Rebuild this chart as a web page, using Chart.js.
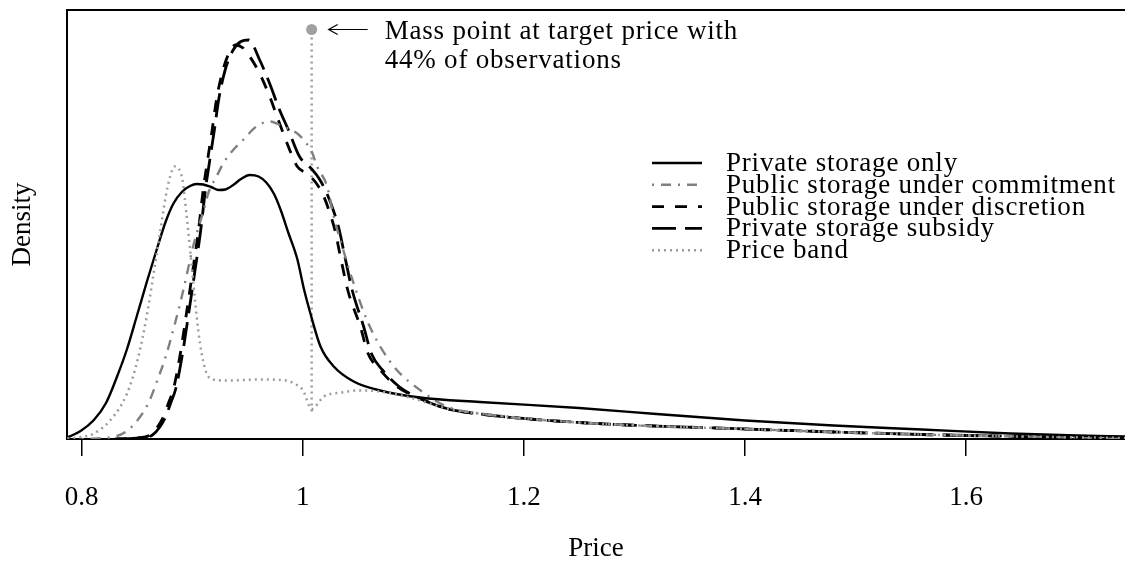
<!DOCTYPE html>
<html>
<head>
<meta charset="utf-8">
<script src="https://cdn.jsdelivr.net/npm/chart.js@4.4.1/dist/chart.umd.min.js"></script>
<style>
  html, body { margin: 0; padding: 0; background: #fff; overflow: hidden; }
</style>
</head>
<body>
<canvas id="myChart" width="1125" height="565"></canvas>
<script>
// density of prices
const privateX = [0.787, 0.799, 0.811, 0.822, 0.832, 0.841, 0.850, 0.859, 0.868, 0.876, 0.883, 0.891, 0.898, 0.904, 0.910, 0.917, 0.924, 0.930, 0.937, 0.944, 0.952, 0.960, 0.967, 0.974, 0.980, 0.987, 0.995, 1.001, 1.007, 1.016, 1.028, 1.046, 1.070, 1.106, 1.160, 1.250, 1.320, 1.400, 1.480, 1.560, 1.640, 1.700, 1.744];
const privateY = [0.03, 0.16, 0.38, 0.72, 1.25, 1.80, 2.47, 3.15, 3.80, 4.35, 4.71, 4.95, 5.06, 5.10, 5.09, 5.04, 4.98, 4.99, 5.08, 5.20, 5.28, 5.25, 5.13, 4.90, 4.58, 4.12, 3.60, 3.00, 2.50, 1.85, 1.45, 1.15, 0.97, 0.83, 0.74, 0.62, 0.50, 0.37, 0.27, 0.19, 0.11, 0.07, 0.05];

const commitX = [0.800, 0.830, 0.842, 0.853, 0.861, 0.868, 0.876, 0.884, 0.890, 0.895, 0.900, 0.904, 0.910, 0.915, 0.922, 0.928, 0.937, 0.946, 0.958, 0.970, 0.982, 0.995, 1.002, 1.008, 1.013, 1.022, 1.028, 1.037, 1.046, 1.058, 1.070, 1.085, 1.106, 1.130, 1.160, 1.250, 1.400, 1.560, 1.650, 1.744];
const commitY = [0.00, 0.05, 0.18, 0.45, 0.75, 1.15, 1.65, 2.28, 2.80, 3.28, 3.78, 4.11, 4.55, 4.95, 5.25, 5.51, 5.78, 5.98, 6.25, 6.35, 6.25, 6.11, 5.95, 5.75, 5.45, 5.05, 4.45, 3.75, 3.11, 2.38, 1.85, 1.38, 0.98, 0.65, 0.51, 0.33, 0.20, 0.09, 0.05, 0.02];

const discretionX = [0.830, 0.850, 0.862, 0.868, 0.874, 0.879, 0.883, 0.889, 0.895, 0.901, 0.9055, 0.910, 0.914, 0.918, 0.922, 0.928, 0.934, 0.939, 0.946, 0.952, 0.961, 0.970, 0.979, 0.986, 0.995, 1.004, 1.011, 1.018, 1.024, 1.029, 1.034, 1.041, 1.052, 1.059, 1.070, 1.085, 1.106, 1.130, 1.160, 1.250, 1.400, 1.560, 1.650, 1.744];
const discretionY = [0.00, 0.02, 0.08, 0.22, 0.45, 0.75, 1.00, 1.68, 2.55, 3.45, 4.15, 5.00, 5.60, 6.18, 6.80, 7.40, 7.75, 7.88, 7.82, 7.65, 7.31, 6.85, 6.31, 5.90, 5.45, 5.30, 5.15, 4.90, 4.55, 4.18, 3.65, 2.95, 2.25, 1.71, 1.38, 1.05, 0.81, 0.61, 0.50, 0.33, 0.20, 0.09, 0.05, 0.02];

const subsidyX = [0.832, 0.852, 0.864, 0.870, 0.876, 0.881, 0.885, 0.891, 0.897, 0.903, 0.9075, 0.912, 0.916, 0.920, 0.924, 0.930, 0.937, 0.944, 0.951, 0.961, 0.970, 0.979, 0.987, 0.997, 1.008, 1.015, 1.022, 1.028, 1.033, 1.038, 1.045, 1.055, 1.062, 1.072, 1.087, 1.106, 1.130, 1.160, 1.250, 1.400, 1.560, 1.650, 1.744];
const subsidyY = [0.00, 0.02, 0.08, 0.22, 0.45, 0.75, 1.00, 1.68, 2.55, 3.45, 4.15, 5.00, 5.60, 6.18, 6.80, 7.40, 7.78, 7.95, 7.98, 7.58, 7.11, 6.58, 6.18, 5.65, 5.40, 5.20, 4.90, 4.55, 4.18, 3.65, 2.95, 2.25, 1.71, 1.38, 1.05, 0.81, 0.61, 0.50, 0.33, 0.20, 0.09, 0.05, 0.02];

const bandX = [0.787, 0.800, 0.811, 0.826, 0.841, 0.851, 0.859, 0.865, 0.871, 0.876, 0.880, 0.884, 0.888, 0.891, 0.895, 0.898, 0.901, 0.904, 0.907, 0.910, 0.913, 0.919, 0.930, 0.961, 0.985, 0.993, 1.000, 1.008, 1.019, 1.035, 1.049, 1.070, 1.100, 1.130, 1.160, 1.250, 1.400, 1.560, 1.650, 1.744];
const bandY = [0.01, 0.04, 0.11, 0.38, 0.91, 1.62, 2.48, 3.30, 4.15, 4.85, 5.25, 5.45, 5.40, 5.20, 4.45, 3.80, 3.11, 2.45, 1.91, 1.55, 1.31, 1.19, 1.17, 1.19, 1.17, 1.10, 0.98, 0.60, 0.85, 0.93, 0.97, 0.95, 0.81, 0.61, 0.51, 0.33, 0.20, 0.09, 0.05, 0.02];

// mass point at the target price
const massX = [1.008, 1.008];
const massY = [0.55, 8.19];

const seriesNames = ['Private storage only', 'Public storage under commitment', 'Public storage under discretion', 'Private storage subsidy', 'Price band'];
const tickValues = [0.8, 1, 1.2, 1.4, 1.6];
const tickLabels = ['0.8', '1', '1.2', '1.4', '1.6'];
const noteLines = ['Mass point at target price with', '44% of observations'];

const FONT = "'Liberation Serif', 'Times New Roman', serif";
Chart.defaults.font.family = FONT;
Chart.defaults.color = '#000';

const toPoints = (xs, ys) => xs.map((x, i) => ({x: x, y: ys[i]}));

function curve(label, xs, ys, color, width, dash) {
    return {
        label: label,
        data: toPoints(xs, ys),
        borderColor: color,
        borderWidth: width,
        borderDash: dash,
        pointRadius: 0,
        fill: false,
        cubicInterpolationMode: 'monotone'
    };
}

const data = {
    datasets: [
        curve(seriesNames[4], bandX, bandY, '#9c9c9c', 2.5, [2, 4]),
        curve(seriesNames[0], privateX, privateY, '#000', 2.4, []),
        curve(seriesNames[1], commitX, commitY, '#808080', 2.4, [2, 7, 10, 7]),
        curve(seriesNames[2], discretionX, discretionY, '#000', 2.8, [12, 11]),
        curve(seriesNames[3], subsidyX, subsidyY, '#000', 2.8, [24, 9]),
        {
            label: 'mass line',
            data: toPoints(massX, massY),
            borderColor: '#9c9c9c',
            borderWidth: 2.5,
            borderDash: [2, 4],
            tension: 0,
            pointRadius: [0, 5.5],
            pointBackgroundColor: '#a0a0a0',
            pointBorderWidth: 0,
            fill: false
        }
    ]
};

// top of the box, the note with its arrow, and the legend
const extras = {
    id: 'extras',
    afterDatasetsDraw(chart) {
        const ctx = chart.ctx;
        const a = chart.chartArea;
        const x = chart.scales.x, y = chart.scales.y;
        ctx.save();
        ctx.strokeStyle = '#000';
        ctx.lineWidth = 2;
        ctx.beginPath();
        ctx.moveTo(a.left - 1, a.top);
        ctx.lineTo(a.right, a.top);
        ctx.stroke();

        const px = x.getPixelForValue(massX[1]);
        const py = y.getPixelForValue(massY[1]);
        ctx.lineWidth = 1.2;
        ctx.beginPath();
        ctx.moveTo(px + 56, py);
        ctx.lineTo(px + 17, py);
        ctx.moveTo(px + 26, py - 5);
        ctx.lineTo(px + 17, py);
        ctx.lineTo(px + 26, py + 5);
        ctx.stroke();

        ctx.font = '27px ' + FONT;
        ctx.letterSpacing = '0.8px';
        ctx.fillStyle = '#000';
        ctx.textBaseline = 'middle';
        ctx.fillText(noteLines[0], px + 73, py + 2);
        ctx.fillText(noteLines[1], px + 73, py + 31);

        // legend rows in the order of the original key
        const order = [1, 2, 3, 4, 0];
        order.forEach((di, row) => {
            const ds = chart.data.datasets[di];
            const ry = 163 + row * 21.8;
            ctx.strokeStyle = ds.borderColor;
            ctx.lineWidth = ds.borderWidth;
            ctx.setLineDash(ds.borderDash);
            ctx.beginPath();
            ctx.moveTo(652, ry);
            ctx.lineTo(702, ry);
            ctx.stroke();
            ctx.setLineDash([]);
            ctx.fillText(ds.label, 726, ry + 1);
        });
        ctx.restore();
    }
};

const config = {
    type: 'line',
    data: data,
    options: {
        responsive: false,
        animation: false,
        layout: { autoPadding: false, padding: { top: 10, right: 0, bottom: 0, left: 0 } },
        plugins: {
            legend: { display: false },
            tooltip: { enabled: false }
        },
        scales: {
            x: {
                type: 'linear',
                min: 0.7867,
                max: 1.7437,
                afterBuildTicks: s => { s.ticks = tickValues.map(v => ({value: v})); },
                afterFit: s => { s.height = 126; },
                ticks: {
                    padding: 26,
                    maxRotation: 0,
                    font: { size: 27 },
                    callback: (v, i) => tickLabels[i]
                },
                grid: {
                    display: true,
                    drawOnChartArea: false,
                    drawTicks: true,
                    tickLength: 17,
                    color: '#000',
                    lineWidth: 1.5
                },
                border: { display: true, color: '#000', width: 2 },
                title: {
                    display: true,
                    text: 'Price',
                    font: { size: 27 },
                    padding: { top: 0, bottom: 0 }
                }
            },
            y: {
                min: 0,
                max: 8.58,
                afterFit: s => { s.width = 67; },
                ticks: { display: false },
                grid: { display: false },
                border: { display: true, color: '#000', width: 2 },
                title: {
                    display: true,
                    text: 'Density',
                    font: { size: 27 },
                    padding: { top: 7, bottom: 0 }
                }
            }
        }
    },
    plugins: [extras]
};

new Chart(document.getElementById('myChart'), config);
</script>
</body>
</html>
